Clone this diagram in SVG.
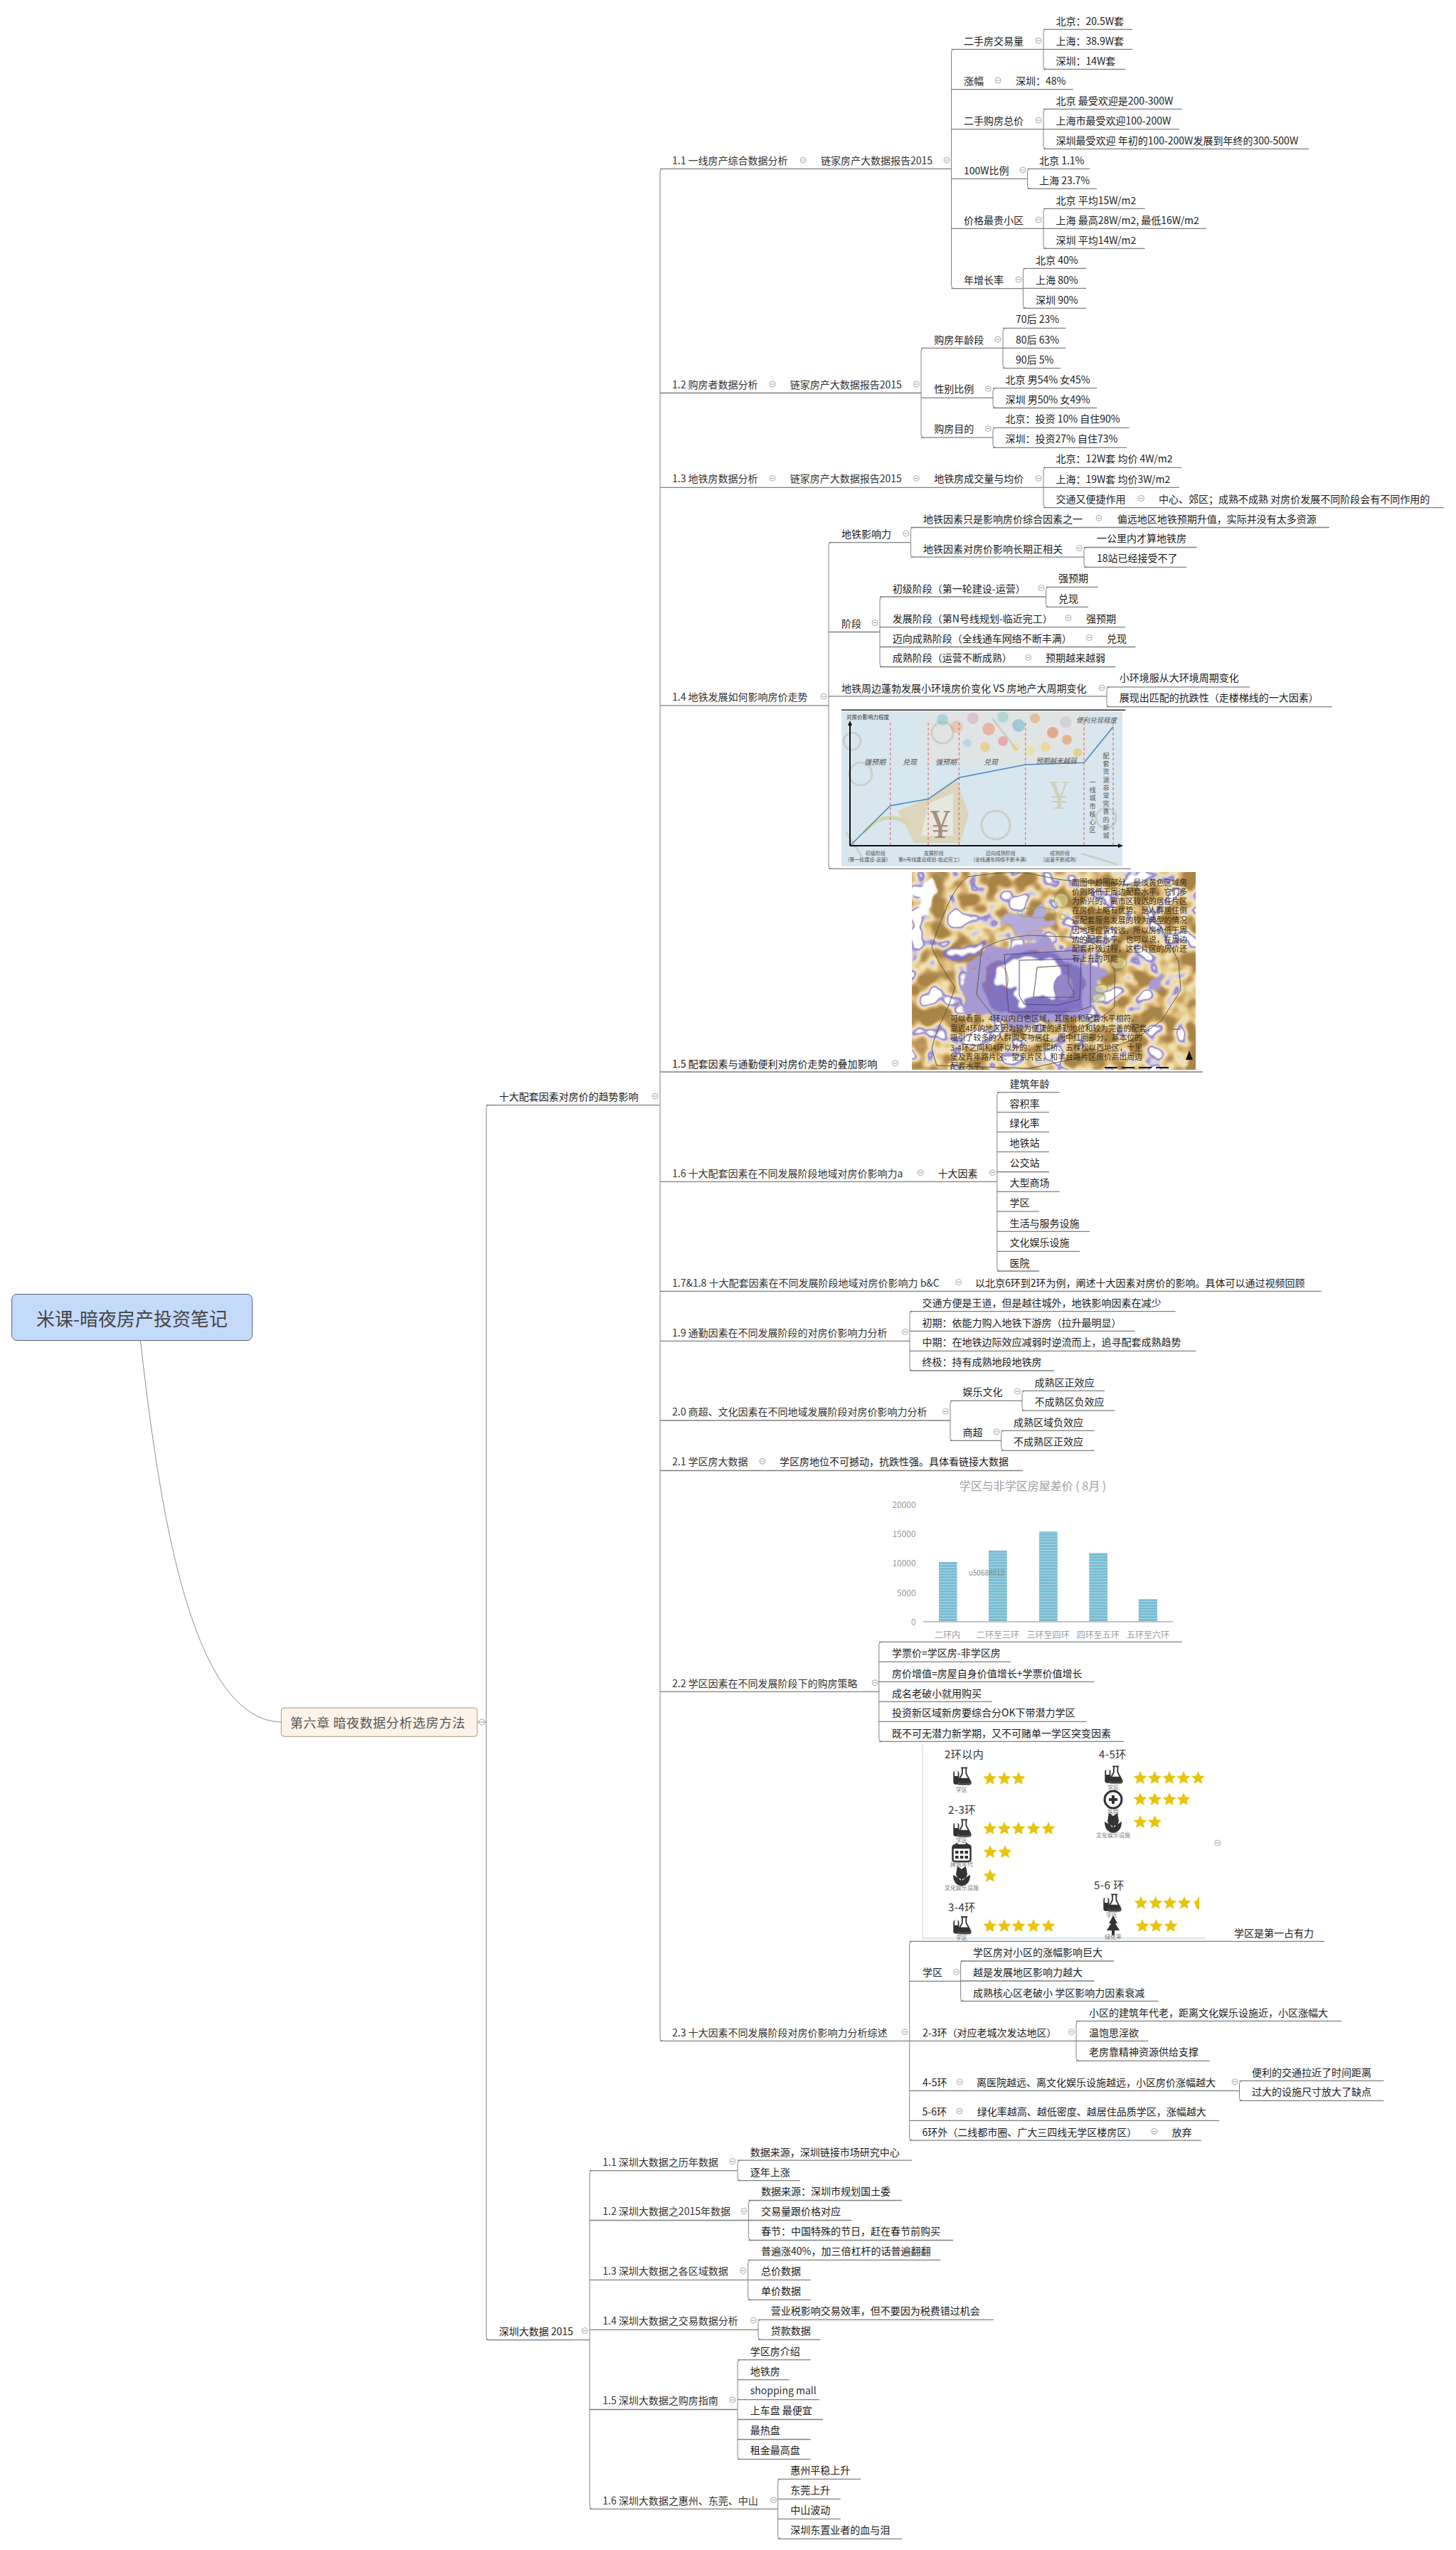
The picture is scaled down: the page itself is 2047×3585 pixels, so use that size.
<svg xmlns="http://www.w3.org/2000/svg" width="2047" height="3585" viewBox="0 0 2047 3585">
<style>
text{font-family:"Noto Sans CJK SC","Noto Sans",sans-serif;dominant-baseline:central}
.t{font-size:14px;fill:#1c1c1c}
.s{font-size:14px;fill:#333}
.g{font-size:12px;fill:#9a9a9a}
.m{font-size:7px;fill:#555;text-anchor:middle}
.i{font-size:10px;fill:#555;font-style:italic;text-anchor:middle}
.v{font-size:9px;fill:#555;writing-mode:vertical-rl;letter-spacing:2.2px}
.mp{font-size:10.800px;fill:#3a3015}
.h{font-size:15px;fill:#333;letter-spacing:.5px}
.l{font-size:8px;fill:#777;text-anchor:middle}
#lines path{fill:none;stroke:#808080;stroke-width:1.3}
.dash{stroke:#d8505a;stroke-width:.9;stroke-dasharray:4 3;fill:none}
.ring{fill:none;stroke:#5c5a48;stroke-width:1}
</style>
<defs>
<g id="c"><circle r="4" fill="#fff" stroke="#a8a8a8"/><path d="M-2.4 0H2.4" stroke="#999"/></g>
<polygon id="st" fill="#e8c40c" points="0,-10 2.7,-3.7 9.5,-3.1 4.4,1.4 5.9,8.1 0,4.6 -5.900,8.1 -4.4,1.4 -9.5,-3.1 -2.7,-3.7"/>
<g id="flask" transform="scale(.9)"><rect x="-13" y="-8" width="9" height="21" rx="3.500" fill="#333"/><rect x="-11" y="-8" width="5" height="8" fill="#fff"/><path d="M-1-13H9M1-13V-4L-6 9Q-7 13-3 13H11Q15 13 14 9L7-4V-13" fill="#fff" stroke="#333" stroke-width="2"/><path d="M-3 3H11L13 9Q14 12 11 12H-3Q-6 12-5 9Z" fill="#333"/></g>
<g id="cal"><rect x="-12.500" y="-10" width="25" height="23" rx="3" fill="#fff" stroke="#333" stroke-width="2.500"/><rect x="-12" y="-10" width="24" height="5" fill="#333"/><g fill="#333"><rect x="-9" y="-2" width="4.500" height="4"/><rect x="-2.200" y="-2" width="4.500" height="4"/><rect x="4.500" y="-2" width="4.500" height="4"/><rect x="-9" y="5" width="4.500" height="4"/><rect x="-2.200" y="5" width="4.500" height="4"/><rect x="4.500" y="5" width="4.500" height="4"/></g><path d="M-7-13V-7M7-13V-7" stroke="#333" stroke-width="2.500"/></g>
<path id="tul" fill="#333" d="M-6-14L0-10 6-14 8-3Q7 3 1 4V6Q6 1 12-2Q12 12 0 14Q-12 12-12-2Q-6 1-1 6V4Q-7 3-8-3Z"/>
<g id="med"><circle r="12" fill="#fff" stroke="#333" stroke-width="3"/><path d="M-6 0H6M0-6V6" stroke="#333" stroke-width="4"/></g>
<path id="tree" fill="#333" d="M0-15L6-4H3L9 6H2V13H-2V6H-9L-3-4H-6Z"/>
<pattern id="bar" width="4" height="4" patternUnits="userSpaceOnUse"><rect width="4" height="4" fill="#79bdd3"/><rect y="3" width="4" height="1" fill="#a9d6e3"/></pattern>
<filter id="heat" x="0" y="0" width="100%" height="100%" color-interpolation-filters="sRGB">
<feTurbulence type="fractalNoise" baseFrequency="0.036" numOctaves="2" seed="11"/>
<feColorMatrix type="matrix" values="1 0 0 0 0 1 0 0 0 0 1 0 0 0 0 0 0 0 0 1"/>
<feComponentTransfer>
<feFuncR type="table" tableValues="1 1 1 1 1 1 1 .56 .85 .95 .9 .83 .72 .66 .66 .66 .66 .66 .66 .66 .66"/>
<feFuncG type="table" tableValues="1 1 1 1 1 1 1 .5 .82 .89 .8 .68 .57 .52 .52 .52 .52 .52 .52 .52 .52"/>
<feFuncB type="table" tableValues="1 1 1 1 1 1 1 .78 .88 .7 .56 .42 .35 .28 .28 .28 .28 .28 .28 .28 .28"/>
</feComponentTransfer>
<feGaussianBlur stdDeviation=".6"/>
</filter>
<filter id="wob" x="-40%" y="-40%" width="180%" height="180%">
<feTurbulence type="fractalNoise" baseFrequency=".035" numOctaves="2" seed="5" result="n"/>
<feDisplacementMap in="SourceGraphic" in2="n" scale="46" xChannelSelector="R" yChannelSelector="G"/>
<feGaussianBlur stdDeviation=".8"/>
</filter>
</defs>
<rect width="2047" height="3585" fill="#fff"/>

<g id="lines">
<path style="stroke:#8c8c8c;stroke-width:1" d="M197.500 1884.600C225 2130 270 2418 395.400 2421"/>
<path d="M671 2421H683.700"/>
<path style="stroke-width:1" d="M701 1553.600H687.700Q683.700 1553.600 683.700 1557.600V3285.700Q683.700 3289.700 687.700 3289.700H803"/>
<path d="M683.700 1553.600H927.300"/>
<path d="M683.700 3289.700H829"/>
<path style="stroke-width:1" d="M932 237.300Q928 237.300 928 241.300V2865.300Q928 2869.300 932 2869.300"/>
<path d="M928 237.300H1337.500M928 552.500H1295M928 685.300H1467M928 991.800H1165M928 1507H1690.800M928 1661.400H1402M928 1815.400H1857.600M928 1885.400H1279M928 1997H1336M928 2067.500H1437.700M928 2378.300H1236.500M928 2869.300H1278.700"/>
<path style="stroke-width:1" d="M1341.500 69.300Q1337.500 69.300 1337.500 73.300V401.700Q1337.500 405.700 1341.500 405.700"/>
<path d="M1337.500 69.300H1467M1337.500 125.700H1509M1337.500 181.700H1467M1337.500 251.300H1444.500M1337.500 321.300H1467M1337.500 405.700H1438.400"/>
<path style="stroke-width:1" d="M1471 41.300Q1467 41.300 1467 45.300V93.300Q1467 97.300 1471 97.300"/>
<path d="M1467 41.300H1592M1467 69.300H1592M1467 97.300H1582"/>
<path style="stroke-width:1" d="M1471 153.300Q1467 153.300 1467 157.300V205.300Q1467 209.300 1471 209.300"/>
<path d="M1467 153.300H1661.500M1467 181.700H1658M1467 209.300H1840"/>
<path style="stroke-width:1" d="M1448.500 237.300Q1444.500 237.300 1444.500 241.300V261.300Q1444.500 265.300 1448.500 265.300"/>
<path d="M1444.500 237.300H1532M1444.500 265.300H1542"/>
<path style="stroke-width:1" d="M1471 293.300Q1467 293.300 1467 297.300V345.300Q1467 349.300 1471 349.300"/>
<path d="M1467 293.300H1609.600M1467 321.300H1696M1467 349.300H1609.600"/>
<path style="stroke-width:1" d="M1442.400 377.300Q1438.400 377.300 1438.400 381.300V429.300Q1438.400 433.300 1442.400 433.300"/>
<path d="M1438.400 377.300H1527M1438.400 405.300H1527M1438.400 433.300H1527"/>
<path style="stroke-width:1" d="M1299 489.300Q1295 489.300 1295 493.300V611.200Q1295 615.200 1299 615.200"/>
<path d="M1295 489.300H1410M1295 559.400H1396M1295 615.200H1396"/>
<path style="stroke-width:1" d="M1414 461.400Q1410 461.400 1410 465.400V513.600Q1410 517.600 1414 517.600"/>
<path d="M1410 461.400H1498.400M1410 489.300H1498.400M1410 517.600H1491"/>
<path style="stroke-width:1" d="M1400 545.600Q1396 545.600 1396 549.600V569.500Q1396 573.500 1400 573.500"/>
<path d="M1396 545.600H1542M1396 573.500H1542"/>
<path style="stroke-width:1" d="M1400 601.400Q1396 601.400 1396 605.400V625.400Q1396 629.400 1400 629.400"/>
<path d="M1396 601.400H1587.600M1396 629.400H1584"/>
<path style="stroke-width:1" d="M1471 657.300Q1467 657.300 1467 661.300V709.600Q1467 713.600 1471 713.600"/>
<path d="M1467 657.300H1661M1467 685.300H1658M1467 713.600H2030"/>
<path style="stroke-width:1" d="M1169 762.600Q1165 762.600 1165 766.600V1217.400Q1165 1221.400 1169 1221.400"/>
<path d="M1165 762.600H1280.400M1165 888.500H1237M1165 978.800H1556M1165 1221.400H1590"/>
<path style="stroke:#222;stroke-width:1.500" d="M1183 998.300H1582"/>
<path style="stroke-width:1" d="M1284.400 741.500Q1280.400 741.500 1280.400 745.500V779.200Q1280.400 783.200 1284.400 783.200"/>
<path d="M1280.400 741.500H1869M1280.400 783.200H1524"/>
<path style="stroke-width:1" d="M1528 769.500Q1524 769.500 1524 773.500V793.400Q1524 797.400 1528 797.400"/>
<path d="M1524 769.500H1682.700M1524 797.400H1668"/>
<path style="stroke-width:1" d="M1241 839Q1237 839 1237 843V933.500Q1237 937.500 1241 937.500"/>
<path d="M1237 839H1470.600M1237 881.600H1581.800M1237 909.500H1596.400M1237 937.500H1568"/>
<path style="stroke-width:1" d="M1474.600 825.300Q1470.600 825.300 1470.600 829.300V849.300Q1470.600 853.300 1474.600 853.300"/>
<path d="M1470.600 825.300H1543.700M1470.600 853.300H1530"/>
<path style="stroke-width:1" d="M1560 965.800Q1556 965.800 1556 969.800V989.700Q1556 993.700 1560 993.700"/>
<path d="M1556 965.800H1757.400M1556 993.700H1873"/>
<path style="stroke-width:1" d="M1405.800 1535.700Q1401.800 1535.700 1401.800 1539.700V1783Q1401.800 1787 1405.800 1787"/>
<path d="M1401.800 1535.700H1489.600M1401.800 1563.600H1475M1401.800 1591.400H1475M1401.800 1619.300H1475M1401.800 1647.500H1475M1401.800 1675.400H1489.600M1401.800 1703.200H1461M1401.800 1731.400H1532M1401.800 1759.300H1518M1401.800 1787H1461"/>
<path style="stroke-width:1" d="M1283 1843.600Q1279 1843.600 1279 1847.600V1923Q1279 1927 1283 1927"/>
<path d="M1279 1843.600H1652.700M1279 1871.400H1595.700M1279 1899.300H1681.300M1279 1927H1481.600"/>
<path style="stroke-width:1" d="M1340 1969.300Q1336 1969.300 1336 1973.300V2021.400Q1336 2025.400 1340 2025.400"/>
<path d="M1336 1969.300H1437M1336 2025.400H1407.700"/>
<path style="stroke-width:1" d="M1441 1955.400Q1437 1955.400 1437 1959.400V1979.200Q1437 1983.200 1441 1983.200"/>
<path d="M1437 1955.400H1553M1437 1983.200H1567"/>
<path style="stroke-width:1" d="M1411.700 2011.400Q1407.700 2011.400 1407.700 2015.400V2035.300Q1407.700 2039.300 1411.700 2039.300"/>
<path d="M1407.700 2011.400H1538.600M1407.700 2039.300H1538.600"/>
<path style="stroke-width:1" d="M1239.800 2308.300Q1235.800 2308.300 1235.800 2312.300V2444.300Q1235.800 2448.300 1239.800 2448.300"/>
<path d="M1235.800 2308.300H1662M1235.800 2336.300H1420.800M1235.800 2364.300H1538.600M1235.800 2392.300H1394.500M1235.800 2420.300H1527.700M1235.800 2448.300H1580"/>
<path style="stroke-width:1" d="M1282.700 2729.300Q1278.700 2729.300 1278.700 2733.300V3005.200Q1278.700 3009.200 1282.700 3009.200"/>
<path d="M1278.700 2729.300H1862M1278.700 2785.300H1350.600M1278.700 2869.300H1513M1278.700 2939.300H1742.500M1278.700 2981.300H1714M1278.700 3009.200H1689"/>
<path style="stroke-width:1" d="M1354.600 2757Q1350.600 2757 1350.600 2761V2809.300Q1350.600 2813.300 1354.600 2813.300"/>
<path d="M1350.600 2757H1566M1350.600 2785H1538.400M1350.600 2813.300H1628.400"/>
<path style="stroke-width:1" d="M1517 2841.300Q1513 2841.300 1513 2845.300V2893.300Q1513 2897.300 1517 2897.300"/>
<path d="M1513 2841.300H1886M1513 2869.300H1614.500M1513 2897.300H1700.800"/>
<path style="stroke-width:1" d="M1746.500 2925.300Q1742.500 2925.300 1742.500 2929.300V2949.300Q1742.500 2953.300 1746.500 2953.300"/>
<path d="M1742.500 2925.300H1945.400M1742.500 2953.300H1945.400"/>
<path style="stroke-width:1" d="M833 3051.600Q829 3051.600 829 3055.600V3523.300Q829 3527.300 833 3527.300"/>
<path d="M829 3051.600H1037M829 3121.500H1052.400M829 3205.400H1051.600M829 3275.300H1066M829 3387.500H1037M829 3527.300H1093.700"/>
<path style="stroke-width:1" d="M1041 3037.200Q1037 3037.200 1037 3041.200V3061.600Q1037 3065.600 1041 3065.600"/>
<path d="M1037 3037.200H1282M1037 3065.600H1125"/>
<path style="stroke-width:1" d="M1056.400 3093.500Q1052.400 3093.500 1052.400 3097.500V3145.500Q1052.400 3149.500 1056.400 3149.500"/>
<path d="M1052.400 3093.500H1268M1052.400 3121.500H1197M1052.400 3149.500H1340"/>
<path style="stroke-width:1" d="M1055.600 3177.400Q1051.600 3177.400 1051.600 3181.400V3229.300Q1051.600 3233.300 1055.600 3233.300"/>
<path d="M1051.600 3177.400H1322.500M1051.600 3205.400H1139.600M1051.600 3233.300H1139.600"/>
<path style="stroke-width:1" d="M1070 3261.300Q1066 3261.300 1066 3265.300V3285.300Q1066 3289.300 1070 3289.300"/>
<path d="M1066 3261.300H1396.700M1066 3289.300H1153.400"/>
<path style="stroke-width:1" d="M1041 3317.600Q1037 3317.600 1037 3321.600V3453.400Q1037 3457.400 1041 3457.400"/>
<path d="M1037 3317.600H1139.600M1037 3345.600H1109.800M1037 3373.600H1151.800M1037 3401.500H1157M1037 3429.500H1139.600M1037 3457.400H1139.600"/>
<path style="stroke-width:1" d="M1097.700 3485.400Q1093.700 3485.400 1093.700 3489.400V3565.300Q1093.700 3569.300 1097.700 3569.300"/>
<path d="M1093.700 3485.400H1210M1093.700 3513.400H1181.700M1093.700 3541.300H1181.700M1093.700 3569.300H1268"/>
</g>

<g id="root"><rect x="16.600" y="1819.500" width="338" height="65" rx="7" fill="#c4dafa" stroke="#55657a"/><text x="185.600" y="1852" text-anchor="middle" style="font-size:26px;fill:#454545">米课-暗夜房产投资笔记</text></g>
<g id="chapter"><rect x="395.400" y="2401" width="275.600" height="40.300" rx="4" fill="#fdf3e8" stroke="#a89880"/><text x="408" y="2421" style="font-size:18px;letter-spacing:.6px;fill:#555">第六章 暗夜数据分析选房方法</text><use href="#c" x="677.300" y="2421"/></g>
<g id="b1"><text class="t" x="701.500" y="1540.800">十大配套因素对房价的趋势影响</text><use href="#c" x="921" y="1541"/></g>
<g id="b2"><text class="t" x="701.500" y="3276.600">深圳大数据 2015</text><use href="#c" x="822" y="3276.600"/></g>

<g id="n11"><text class="s" x="945" y="225">1.1 一线房产综合数据分析</text><use href="#c" x="1129" y="225"/></g>
<g id="n110"><text class="s" x="1154" y="225">链家房产大数据报告2015</text><use href="#c" x="1331" y="225"/></g>
<g id="n111"><text class="t" x="1355" y="56.500">二手房交易量</text><use href="#c" x="1460" y="57"/></g>
<g id="n1111"><text class="t" x="1484.500" y="28.500">北京：20.5W套</text></g>
<g id="n1112"><text class="t" x="1484.500" y="56.500">上海：38.9W套</text></g>
<g id="n1113"><text class="t" x="1484.500" y="84.500">深圳：14W套</text></g>
<g id="n112"><text class="t" x="1355" y="112.700">涨幅</text><use href="#c" x="1403" y="113"/><text class="t" x="1428" y="112.700">深圳：48%</text></g>
<g id="n113"><text class="t" x="1355" y="168.700">二手购房总价</text><use href="#c" x="1460" y="169"/></g>
<g id="n1131"><text class="t" x="1484.500" y="140.700">北京 最受欢迎是200-300W</text></g>
<g id="n1132"><text class="t" x="1484.500" y="168.700">上海市最受欢迎100-200W</text></g>
<g id="n1133"><text class="t" x="1484.500" y="197">深圳最受欢迎 年初的100-200W发展到年终的300-500W</text></g>
<g id="n114"><text class="t" x="1355" y="238.700">100W比例</text><use href="#c" x="1438" y="239"/></g>
<g id="n1141"><text class="t" x="1461" y="225">北京 1.1%</text></g>
<g id="n1142"><text class="t" x="1461" y="253">上海 23.7%</text></g>
<g id="n115"><text class="t" x="1355" y="309">价格最贵小区</text><use href="#c" x="1460" y="309"/></g>
<g id="n1151"><text class="t" x="1484.500" y="281">北京 平均15W/m2</text></g>
<g id="n1152"><text class="t" x="1484.500" y="309">上海 最高28W/m2, 最低16W/m2</text></g>
<g id="n1153"><text class="t" x="1484.500" y="337">深圳 平均14W/m2</text></g>
<g id="n116"><text class="t" x="1355" y="392.700">年增长率</text><use href="#c" x="1432" y="393"/></g>
<g id="n1161"><text class="t" x="1456" y="364.700">北京 40%</text></g>
<g id="n1162"><text class="t" x="1456" y="392.700">上海 80%</text></g>
<g id="n1163"><text class="t" x="1456" y="420.700">深圳 90%</text></g>

<g id="n12"><text class="s" x="945" y="539.800">1.2 购房者数据分析</text><use href="#c" x="1086" y="540"/></g>
<g id="n120"><text class="s" x="1110.700" y="539.800">链家房产大数据报告2015</text><use href="#c" x="1288.400" y="540"/></g>
<g id="n121"><text class="t" x="1313.300" y="476.700">购房年龄段</text><use href="#c" x="1403" y="477"/></g>
<g id="n1211"><text class="t" x="1428" y="448.400">70后 23%</text></g>
<g id="n1212"><text class="t" x="1428" y="476.700">80后 63%</text></g>
<g id="n1213"><text class="t" x="1428" y="504.600">90后 5%</text></g>
<g id="n122"><text class="t" x="1313.300" y="546.300">性别比例</text><use href="#c" x="1389.400" y="546.500"/></g>
<g id="n1221"><text class="t" x="1413.500" y="532.600">北京 男54% 女45%</text></g>
<g id="n1222"><text class="t" x="1413.500" y="560.500">深圳 男50% 女49%</text></g>
<g id="n123"><text class="t" x="1313.300" y="602.200">购房目的</text><use href="#c" x="1389.400" y="602.500"/></g>
<g id="n1231"><text class="t" x="1413.500" y="588.400">北京：投资 10% 自住90%</text></g>
<g id="n1232"><text class="t" x="1413.500" y="616.400">深圳：投资27% 自住73%</text></g>

<g id="n13"><text class="s" x="945" y="672.200">1.3 地铁房数据分析</text><use href="#c" x="1086" y="672.500"/></g>
<g id="n130"><text class="s" x="1110.700" y="672.200">链家房产大数据报告2015</text><use href="#c" x="1288.400" y="672.500"/></g>
<g id="n131"><text class="t" x="1313.300" y="672.200">地铁房成交量与均价</text><use href="#c" x="1460" y="672.500"/></g>
<g id="n1311"><text class="t" x="1484.500" y="644.300">北京：12W套 均价 4W/m2</text></g>
<g id="n1312"><text class="t" x="1484.500" y="672.600">上海：19W套 均价3W/m2</text></g>
<g id="n1313"><text class="t" x="1484.500" y="700.600">交通又便捷作用</text><use href="#c" x="1604.500" y="700.600"/><text class="t" x="1629" y="700.600">中心、郊区；成熟不成熟 对房价发展不同阶段会有不同作用的</text></g>

<g id="n14"><text class="s" x="945" y="978.800">1.4 地铁发展如何影响房价走势</text><use href="#c" x="1158" y="979"/></g>
<g id="n141"><text class="t" x="1183" y="749.600">地铁影响力</text><use href="#c" x="1273.800" y="750"/></g>
<g id="n1411"><text class="t" x="1298" y="728.500">地铁因素只是影响房价综合因素之一</text><use href="#c" x="1545" y="728.500"/><text class="t" x="1570.800" y="728.500">偏远地区地铁预期升值，实际并没有太多资源</text></g>
<g id="n1412"><text class="t" x="1298" y="770.600">地铁因素对房价影响长期正相关</text><use href="#c" x="1517.400" y="770.600"/></g>
<g id="n14121"><text class="t" x="1542" y="756.400">一公里内才算地铁房</text></g>
<g id="n14122"><text class="t" x="1542" y="784.400">18站已经接受不了</text></g>
<g id="n142"><text class="t" x="1183" y="875.500">阶段</text><use href="#c" x="1230" y="875.500"/></g>
<g id="n1421"><text class="t" x="1254.800" y="826.500">初级阶段（第一轮建设-运营）</text><use href="#c" x="1464" y="826.500"/></g>
<g id="n14211"><text class="t" x="1488" y="812.300">强预期</text></g>
<g id="n14212"><text class="t" x="1488" y="840.600">兑现</text></g>
<g id="n1422"><text class="t" x="1254.800" y="868.600">发展阶段（第N号线规划-临近完工）</text><use href="#c" x="1502" y="868.600"/><text class="t" x="1527" y="868.600">强预期</text></g>
<g id="n1423"><text class="t" x="1254.800" y="896.500">迈向成熟阶段（全线通车网络不断丰满）</text><use href="#c" x="1531.300" y="896.500"/><text class="t" x="1556" y="896.500">兑现</text></g>
<g id="n1424"><text class="t" x="1254.800" y="924.400">成熟阶段（运营不断成熟）</text><use href="#c" x="1445.700" y="924.400"/><text class="t" x="1470" y="924.400">预期越来越弱</text></g>
<g id="n143"><text class="t" x="1183" y="967">地铁周边蓬勃发展小环境房价变化 VS 房地产大周期变化</text><use href="#c" x="1549" y="967"/></g>
<g id="n1431"><text class="t" x="1573.700" y="952.400">小环境服从大环境周期变化</text></g>
<g id="n1432"><text class="t" x="1573.700" y="980.300">展现出匹配的抗跌性（走楼梯线的一大因素）</text></g>

<g id="img1">
<rect x="1183" y="1000" width="395" height="218" fill="#d8e6ef"/>
<rect x="1300" y="1000" width="230" height="75" fill="#e6e2dc" opacity=".6"/>
<g opacity=".55">
<circle cx="1325" cy="1012" r="8" fill="#7fc6d8"/><circle cx="1345" cy="1022" r="9" fill="#f0b090"/><circle cx="1368" cy="1010" r="8" fill="#d8a8c8"/><circle cx="1390" cy="1025" r="9" fill="#f09070"/><circle cx="1410" cy="1008" r="8" fill="#90d0c8"/><circle cx="1432" cy="1020" r="9" fill="#6cb6d0"/><circle cx="1455" cy="1010" r="7" fill="#e8a060"/><circle cx="1480" cy="1030" r="8" fill="#e87850"/><circle cx="1500" cy="1040" r="7" fill="#e89050"/><circle cx="1470" cy="1050" r="7" fill="#f0d060"/><circle cx="1448" cy="1055" r="7" fill="#f0e080"/><circle cx="1428" cy="1050" r="6" fill="#e8e090"/><circle cx="1410" cy="1042" r="7" fill="#e8808a"/><circle cx="1385" cy="1050" r="7" fill="#f4c060"/><circle cx="1360" cy="1045" r="6" fill="#a0d0d8"/><circle cx="1498" cy="1015" r="8" fill="#c8c0d0"/><circle cx="1515" cy="1058" r="6" fill="#e8c040"/>
<path d="M1262 1140L1305 1122 1345 1095 1362 1145 1350 1185H1285Z" fill="#e2c894"/>
<path d="M1305 1130L1340 1115V1175H1295Z" fill="#f2e8d0"/>
<path d="M1215 1170Q1245 1135 1280 1160" fill="none" stroke="#d4cc70" stroke-width="5"/>
</g>
<g fill="none" stroke="#b8ac98" stroke-width="3" opacity=".4"><circle cx="1198" cy="1042" r="12"/><circle cx="1210" cy="1088" r="16"/><circle cx="1325" cy="1030" r="15"/><circle cx="1400" cy="1160" r="20"/><circle cx="1555" cy="1150" r="14"/><path d="M1190 1170L1212 1205M1395 1010L1430 1055M1520 1200L1570 1215"/></g>
<text x="1475" y="1118" style="font-size:56px;font-family:'Liberation Serif',serif" fill="#c4bc80" opacity=".45">¥</text>
<text x="1308" y="1159" style="font-size:56px;font-family:'Liberation Serif',serif" fill="#8a6a5a" opacity=".7">¥</text>
<path class="dash" d="M1251.700 1016V1189M1305 1016V1189M1348.300 1016V1189M1441.700 1016V1189M1524 1016V1189M1565 1016V1189"/>
<path d="M1195 1189L1251.700 1132.700 1305 1123.300 1348.300 1093.300 1441.700 1075 1524 1072.300 1565 1021.700" fill="none" stroke="#4a88c0" stroke-width="1.500"/>
<path d="M1195 1189V1016M1195 1189H1574" fill="none" stroke="#111" stroke-width="2"/>
<path d="M1192 1020L1195 1013 1198 1020ZM1572 1186L1579 1189 1572 1192Z" fill="#111"/>
<text x="1190" y="1007.700" style="font-size:7.500px;fill:#333">对房价影响力程度</text>
<text x="1513" y="1011.500" style="font-size:9.500px;fill:#555;font-style:italic">便利兑现程度</text>
<text class="i" x="1230" y="1070">强预期</text><text class="i" x="1279" y="1070">兑现</text><text class="i" x="1330" y="1070">强预期</text><text class="i" x="1393" y="1070">兑现</text><text class="i" x="1485" y="1069" style="font-size:9.500px">预期越来越弱</text>
<text class="v" x="1536" y="1095">一线城市核心区</text><text class="v" x="1555" y="1058">配套资源非常完善的新城</text>
<text class="m" x="1230.700" y="1199">初级阶段</text><text class="m" x="1312.700" y="1199">发展阶段</text><text class="m" x="1406.700" y="1199">迈向成熟阶段</text><text class="m" x="1490" y="1199">成熟阶段</text>
<text class="m" x="1220" y="1208">(第一轮建设-运营)</text><text class="m" x="1306" y="1208">第n号线建设规划-临近完工)</text><text class="m" x="1406" y="1208">(全线通车网络不断丰满)</text><text class="m" x="1490" y="1208">(运营不断成熟)</text>
</g>

<g id="n15"><text class="t" x="945" y="1494.600">1.5 配套因素与通勤便利对房价走势的叠加影响</text><use href="#c" x="1258.500" y="1494.600"/></g>
<g id="img2">
<rect x="1282" y="1226" width="399" height="278" filter="url(#heat)"/>
<g filter="url(#wob)"><ellipse cx="1455" cy="1385" rx="100" ry="62" fill="#a79ad4"/><ellipse cx="1625" cy="1385" rx="16" ry="12" fill="#a79ad4"/><ellipse cx="1450" cy="1300" rx="32" ry="20" fill="#b6aad8"/><ellipse cx="1455" cy="1382" rx="78" ry="46" fill="#8272c2"/><ellipse cx="1350" cy="1335" rx="30" ry="12" fill="#8272c2"/><ellipse cx="1300" cy="1255" rx="16" ry="30" fill="#fff"/><ellipse cx="1350" cy="1335" rx="22" ry="7" fill="#fff"/><ellipse cx="1450" cy="1378" rx="50" ry="26" fill="#fff"/></g>
<ellipse cx="1495" cy="1388" rx="14" ry="18" fill="#9484c8"/>
<path class="ring" d="M1360 1233C1390 1228 1420 1225 1447 1228C1470 1232 1490 1238 1507 1238C1540 1240 1570 1242 1597 1245L1613 1268C1620 1285 1625 1295 1633 1305L1657 1352L1660 1392L1633 1435L1600 1458C1570 1472 1540 1480 1513 1488L1447 1502L1317 1498L1310 1475C1315 1450 1325 1435 1333 1415L1343 1388C1330 1370 1318 1350 1310 1332C1315 1315 1320 1300 1327 1285C1335 1265 1345 1245 1360 1233Z"/>
<path class="ring" d="M1373 1398L1380 1335C1400 1322 1425 1317 1447 1315L1497 1317C1515 1318 1530 1322 1540 1328C1555 1340 1562 1352 1567 1365V1415C1558 1425 1545 1432 1533 1438C1515 1448 1498 1458 1480 1465L1420 1448C1400 1435 1385 1415 1373 1398Z"/>
<path class="ring" style="stroke:#54497c" d="M1412 1342L1533 1335V1415L1513 1422 1418 1423Z"/>
<path class="ring" style="stroke:#54497c" d="M1433 1350L1520 1348 1518 1405 1487 1413 1440 1412 1433 1400Z"/>
<path class="ring" d="M1458 1360L1502 1357V1382L1510 1395V1402H1453Z"/>
<g fill="#e8e4a0" fill-opacity=".55" stroke="#8aa85a"><circle cx="1492" cy="1266" r="10"/><ellipse cx="1457" cy="1283" rx="27" ry="7" fill="none"/><circle cx="1494" cy="1289" r="4"/><ellipse cx="1573" cy="1354" rx="11" ry="8"/><ellipse cx="1548" cy="1390" rx="9" ry="6"/><ellipse cx="1545" cy="1403" rx="9" ry="6"/></g>
<ellipse cx="1402" cy="1378" rx="15" ry="22" fill="none" stroke="#c86050"/>
<ellipse cx="1460" cy="1322" rx="22" ry="14" fill="none" stroke="#d89080"/>
<text class="mp" x="1507" y="1240">而图中趋圈部分，是淡黄色区域房</text>
<text class="mp" x="1507" y="1252.700">价则略低于周边配套水平。它们多</text>
<text class="mp" x="1507" y="1265.700">为新兴的、离市区较远的居住片区</text>
<text class="mp" x="1507" y="1279">在房价上略有优势。是人群居住倒</text>
<text class="mp" x="1507" y="1292.700">逼配套服务发展的较为典型的情况</text>
<text class="mp" x="1507" y="1306.700">因地理位置较远，所以房价低于周</text>
<text class="mp" x="1507" y="1320">边的配套水平。也可以说，在周边</text>
<text class="mp" x="1507" y="1333.300">配套升级过程，这些片区的房价还</text>
<text class="mp" x="1507" y="1346.700">有上升的可能</text>
<text class="mp" x="1336" y="1431">可以看到，4环以内白色区域，其房价和配套水平相符。</text>
<text class="mp" x="1336" y="1445">靠近4环的地区因为较为便捷的通勤地位和较为完善的配套，</text>
<text class="mp" x="1336" y="1457.500">吸引了较多的人群购买与居住。图中红圈部分，基本位的</text>
<text class="mp" x="1336" y="1472">3-4环之间和4环以外的：光熙桥、五棵松以西地区，十里</text>
<text class="mp" x="1336" y="1485">堡及青年路片区、望京片区，和丰台路片区房价高出周边</text>
<text class="mp" x="1336" y="1498">配套水平。</text>
<path d="M1672 1477L1677 1490H1667Z" fill="#111"/>
<path d="M1553 1501H1643" stroke="#111" stroke-width="2" stroke-dasharray="18 6"/>
<path d="M1648 1447H1660" stroke="#555"/>
</g>

<g id="n16"><text class="s" x="945" y="1648.600">1.6 十大配套因素在不同发展阶段地域对房价影响力a</text><use href="#c" x="1294.300" y="1648.600"/><text class="t" x="1318.400" y="1648.600">十大因素</text><use href="#c" x="1395.300" y="1648.600"/></g>
<g id="n161"><text class="t" x="1419.400" y="1522.500">建筑年龄</text></g>
<g id="n162"><text class="t" x="1419.400" y="1550.700">容积率</text></g>
<g id="n163"><text class="t" x="1419.400" y="1578.200">绿化率</text></g>
<g id="n164"><text class="t" x="1419.400" y="1606">地铁站</text></g>
<g id="n165"><text class="t" x="1419.400" y="1634.300">公交站</text></g>
<g id="n166"><text class="t" x="1419.400" y="1662">大型商场</text></g>
<g id="n167"><text class="t" x="1419.400" y="1690.400">学区</text></g>
<g id="n168"><text class="t" x="1419.400" y="1718.600">生活与服务设施</text></g>
<g id="n169"><text class="t" x="1419.400" y="1746.400">文化娱乐设施</text></g>
<g id="n1610"><text class="t" x="1419.400" y="1774.600">医院</text></g>
<g id="n17"><text class="s" x="945" y="1802.500">1.7&amp;1.8 十大配套因素在不同发展阶段地域对房价影响力 b&amp;C</text><use href="#c" x="1347.700" y="1802.500"/><text class="t" x="1371" y="1802.500">以北京6环到2环为例，阐述十大因素对房价的影响。具体可以通过视频回顾</text></g>
<g id="n19"><text class="s" x="945" y="1872.500">1.9 通勤因素在不同发展阶段的对房价影响力分析</text><use href="#c" x="1272.400" y="1872.500"/></g>
<g id="n191"><text class="t" x="1296.500" y="1830.700">交通方便是王道，但是越往城外，地铁影响因素在减少</text></g>
<g id="n192"><text class="t" x="1296.500" y="1858.600">初期：依能力购入地铁下游房（拉升最明显）</text></g>
<g id="n193"><text class="t" x="1296.500" y="1886">中期：在地铁边际效应减弱时逆流而上，追寻配套成熟趋势</text></g>
<g id="n194"><text class="t" x="1296.500" y="1914.300">终极：持有成熟地段地铁房</text></g>
<g id="n20"><text class="s" x="945" y="1984.300">2.0 商超、文化因素在不同地域发展阶段对房价影响力分析</text><use href="#c" x="1329.400" y="1984.300"/></g>
<g id="n201"><text class="t" x="1353.500" y="1956">娱乐文化</text><use href="#c" x="1430.400" y="1956"/></g>
<g id="n2011"><text class="t" x="1454.500" y="1942.500">成熟区正效应</text></g>
<g id="n2012"><text class="t" x="1454.500" y="1970.400">不成熟区负效应</text></g>
<g id="n202"><text class="t" x="1353.500" y="2012.900">商超</text><use href="#c" x="1401" y="2012.900"/></g>
<g id="n2021"><text class="t" x="1425" y="1998.600">成熟区域负效应</text></g>
<g id="n2022"><text class="t" x="1425" y="2026.400">不成熟区正效应</text></g>
<g id="n21"><text class="s" x="945" y="2054.300">2.1 学区房大数据</text><use href="#c" x="1072" y="2054.300"/><text class="t" x="1096" y="2054.300">学区房地位不可撼动，抗跌性强。具体看链接大数据</text></g>

<g id="chart">
<text x="1452" y="2088.300" text-anchor="middle" style="font-size:16px;fill:#a0a0a0">学区与非学区房屋差价 ( 8月 )</text>
<g text-anchor="end"><text class="g" x="1287.700" y="2114">20000</text><text class="g" x="1287.700" y="2155.300">15000</text><text class="g" x="1287.700" y="2196.300">10000</text><text class="g" x="1287.700" y="2238.300">5000</text><text class="g" x="1287.700" y="2279.300">0</text></g>
<g fill="url(#bar)"><rect x="1320" y="2196" width="25.500" height="84"/><rect x="1390" y="2180" width="25.700" height="100"/><rect x="1461" y="2153.300" width="25.700" height="126.700"/><rect x="1531.300" y="2183.300" width="25.700" height="96.700"/><rect x="1600.800" y="2248.300" width="26.200" height="31.700"/></g>
<path d="M1298 2280H1649" stroke="#c4c4c4" stroke-width="2"/>
<g text-anchor="middle"><text class="g" x="1332" y="2297">二环内</text><text class="g" x="1403" y="2297">二环至三环</text><text class="g" x="1473.500" y="2297">三环至四环</text><text class="g" x="1543.800" y="2297">四环至五环</text><text class="g" x="1614" y="2297">五环至六环</text></g>
<text x="1387" y="2210" text-anchor="middle" style="font-size:10px;fill:#8a8a8a">u50688012</text>
</g>

<g id="n22"><text class="s" x="945" y="2365.700">2.2 学区因素在不同发展阶段下的购房策略</text><use href="#c" x="1230" y="2365.700"/></g>
<g id="n221"><text class="t" x="1254" y="2323.300">学票价=学区房-非学区房</text></g>
<g id="n222"><text class="t" x="1254" y="2351.700">房价增值=房屋自身价值增长+学票价值增长</text></g>
<g id="n223"><text class="t" x="1254" y="2380">成名老破小就用购买</text></g>
<g id="n224"><text class="t" x="1254" y="2407.300">投资新区域新房要综合分OK下带潜力学区</text></g>
<g id="n225"><text class="t" x="1254" y="2435.700">既不可无潜力新学期，又不可赌单一学区突变因素</text></g>

<g id="img3">
<path d="M1297 2453V2727" stroke="#e2e2e2" stroke-width="1.500"/>
<rect x="1297" y="2723" width="398" height="4" fill="#e6eef4"/>
<text class="h" x="1328" y="2465.700">2环以内</text><text class="h" x="1545" y="2465">4-5环</text><text class="h" x="1333" y="2543">2-3环</text><text class="h" x="1333" y="2680">3-4环</text><text class="h" x="1538" y="2649">5-6 环</text>
<use href="#flask" x="1352" y="2497"/><text class="l" x="1352" y="2515">学区</text>
<use href="#st" x="1391.700" y="2500.700"/><use href="#st" x="1412" y="2500.700"/><use href="#st" x="1432" y="2500.700"/>
<use href="#flask" x="1352" y="2570"/><text class="l" x="1352" y="2586.700">学区</text>
<use href="#st" x="1391.700" y="2571"/><use href="#st" x="1412" y="2571"/><use href="#st" x="1432" y="2571"/><use href="#st" x="1453" y="2571"/><use href="#st" x="1474" y="2571"/>
<use href="#cal" x="1352" y="2604"/><text class="l" x="1352" y="2620">建筑年代</text>
<use href="#st" x="1392" y="2604"/><use href="#st" x="1413" y="2604"/>
<use href="#tul" x="1352" y="2637.700"/><text class="l" x="1352" y="2653">文化娱乐设施</text>
<use href="#st" x="1392" y="2637.700"/>
<use href="#flask" x="1352" y="2706.700"/><text class="l" x="1352" y="2723">学区</text>
<use href="#st" x="1391.700" y="2708"/><use href="#st" x="1412" y="2708"/><use href="#st" x="1432" y="2708"/><use href="#st" x="1453" y="2708"/><use href="#st" x="1474" y="2708"/>
<use href="#flask" x="1565" y="2495"/><text class="l" x="1565" y="2512">学区</text>
<use href="#st" x="1603" y="2500"/><use href="#st" x="1623.500" y="2500"/><use href="#st" x="1644" y="2500"/><use href="#st" x="1664" y="2500"/><use href="#st" x="1684.500" y="2500"/>
<use href="#med" x="1565" y="2530"/><text class="l" x="1565" y="2546">医院</text>
<use href="#st" x="1603" y="2530"/><use href="#st" x="1623.500" y="2530"/><use href="#st" x="1644" y="2530"/><use href="#st" x="1664" y="2530"/>
<use href="#tul" x="1565" y="2563"/><text class="l" x="1565" y="2579.300">文化娱乐设施</text>
<use href="#st" x="1603" y="2562"/><use href="#st" x="1623.500" y="2562"/>
<use href="#flask" x="1563" y="2675"/><text class="l" x="1563" y="2691">学区</text>
<use href="#st" x="1604" y="2675.700"/><use href="#st" x="1624.700" y="2675.700"/><use href="#st" x="1644.700" y="2675.700"/><use href="#st" x="1665" y="2675.700"/><path d="M1678.500 2672.600H1682L1686 2665.700V2685L1682 2682.500Z" fill="#e8c40c"/>
<use href="#tree" x="1565" y="2708"/><text class="l" x="1565" y="2722">绿化率</text>
<use href="#st" x="1606" y="2708"/><use href="#st" x="1625.400" y="2708"/><use href="#st" x="1646" y="2708"/>
<use href="#c" x="1711.700" y="2591"/>
</g>

<g id="n231"><text class="t" x="1735" y="2716.700">学区是第一占有力</text></g>
<g id="n23"><text class="s" x="945" y="2856.700">2.3 十大因素不同发展阶段对房价影响力分析综述</text><use href="#c" x="1272" y="2856.700"/></g>
<g id="n232"><text class="t" x="1297" y="2772.300">学区</text><use href="#c" x="1344.600" y="2772.300"/></g>
<g id="n2321"><text class="t" x="1368" y="2744.300">学区房对小区的涨幅影响巨大</text></g>
<g id="n2322"><text class="t" x="1368" y="2772.300">越是发展地区影响力越大</text></g>
<g id="n2323"><text class="t" x="1368" y="2800.700">成熟核心区老破小 学区影响力因素衰减</text></g>
<g id="n233"><text class="t" x="1297" y="2856.700">2-3环（对应老城次发达地区）</text><use href="#c" x="1506.400" y="2856.700"/></g>
<g id="n2331"><text class="t" x="1531" y="2828.700">小区的建筑年代老，距离文化娱乐设施近，小区涨幅大</text></g>
<g id="n2332"><text class="t" x="1531" y="2856.700">温饱思淫欲</text></g>
<g id="n2333"><text class="t" x="1531" y="2884">老房靠精神资源供给支撑</text></g>
<g id="n234"><text class="t" x="1297" y="2926.700">4-5环</text><use href="#c" x="1349.400" y="2926.700"/><text class="t" x="1373" y="2926.700">离医院越远、离文化娱乐设施越远，小区房价涨幅越大</text><use href="#c" x="1736" y="2926.700"/></g>
<g id="n2341"><text class="t" x="1760" y="2912.700">便利的交通拉近了时间距离</text></g>
<g id="n2342"><text class="t" x="1760" y="2940">过大的设施尺寸放大了缺点</text></g>
<g id="n235"><text class="t" x="1296.500" y="2968">5-6环</text><use href="#c" x="1349" y="2968"/><text class="t" x="1373.700" y="2968">绿化率越高、越低密度、越居住品质学区，涨幅越大</text></g>
<g id="n236"><text class="t" x="1296.500" y="2996.500">6环外（二线都市圈、广大三四线无学区楼房区）</text><use href="#c" x="1623" y="2996.500"/><text class="t" x="1647.600" y="2996.500">放弃</text></g>

<g id="s11"><text class="s" x="847.300" y="3038.500">1.1 深圳大数据之历年数据</text><use href="#c" x="1030" y="3038.500"/></g>
<g id="s111"><text class="t" x="1054.700" y="3025">数据来源，深圳链接市场研究中心</text></g>
<g id="s112"><text class="t" x="1054.700" y="3053">逐年上涨</text></g>
<g id="s12"><text class="s" x="847.300" y="3108.400">1.2 深圳大数据之2015年数据</text><use href="#c" x="1046" y="3108.400"/></g>
<g id="s121"><text class="t" x="1070" y="3080">数据来源：深圳市规划国土委</text></g>
<g id="s122"><text class="t" x="1070" y="3108.400">交易量跟价格对应</text></g>
<g id="s123"><text class="t" x="1070" y="3136.300">春节：中国特殊的节日，赶在春节前购买</text></g>
<g id="s13"><text class="s" x="847.300" y="3192.300">1.3 深圳大数据之各区域数据</text><use href="#c" x="1044.700" y="3192.300"/></g>
<g id="s131"><text class="t" x="1070" y="3164.300">普遍涨40%，加三倍杠杆的话普遍翻翻</text></g>
<g id="s132"><text class="t" x="1070" y="3192.300">总价数据</text></g>
<g id="s133"><text class="t" x="1070" y="3220.200">单价数据</text></g>
<g id="s14"><text class="s" x="847.300" y="3262.200">1.4 深圳大数据之交易数据分析</text><use href="#c" x="1059.300" y="3262.200"/></g>
<g id="s141"><text class="t" x="1083.700" y="3247.700">营业税影响交易效率，但不要因为税费错过机会</text></g>
<g id="s142"><text class="t" x="1083.700" y="3276">贷款数据</text></g>
<g id="s15"><text class="s" x="847.300" y="3374">1.5 深圳大数据之购房指南</text><use href="#c" x="1030" y="3374"/></g>
<g id="s151"><text class="t" x="1054.700" y="3304.500">学区房介绍</text></g>
<g id="s152"><text class="t" x="1054.700" y="3332.500">地铁房</text></g>
<g id="s153"><text class="s" x="1054.700" y="3360.400">shopping mall</text></g>
<g id="s154"><text class="t" x="1054.700" y="3388.400">上车盘 最便宜</text></g>
<g id="s155"><text class="t" x="1054.700" y="3416.400">最热盘</text></g>
<g id="s156"><text class="t" x="1054.700" y="3444.300">租金最高盘</text></g>
<g id="s16"><text class="s" x="847.300" y="3514.700">1.6 深圳大数据之惠州、东莞、中山</text><use href="#c" x="1087.600" y="3514.700"/></g>
<g id="s161"><text class="t" x="1111.300" y="3472.300">惠州平稳上升</text></g>
<g id="s162"><text class="t" x="1111.300" y="3500.200">东莞上升</text></g>
<g id="s163"><text class="t" x="1111.300" y="3528.200">中山波动</text></g>
<g id="s164"><text class="t" x="1111.300" y="3556.200">深圳东置业者的血与泪</text></g>
</svg>
